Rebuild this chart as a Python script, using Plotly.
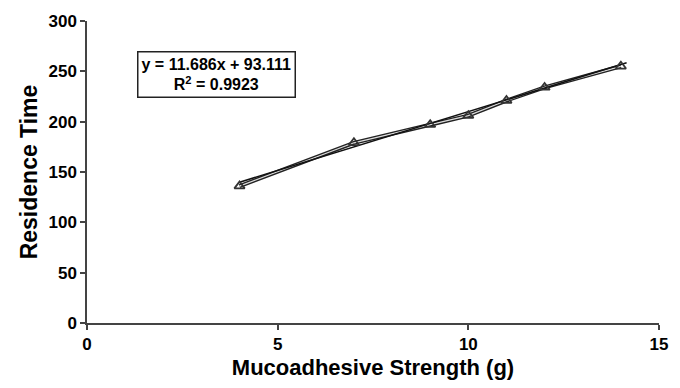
import plotly.graph_objects as go

strength = [4, 7, 9, 10, 11, 12, 14]
residence = [136, 179, 197, 206, 221, 234, 255]
slope = 11.686
intercept = 93.111
eq_text = "<b>y = 11.686x + 93.111</b><br><b>R<sup>2</sup> = 0.9923</b>"
x_ticks = [0, 5, 10, 15]
y_ticks = [0, 50, 100, 150, 200, 250, 300]

font_family = "Arial, Liberation Sans, sans-serif"

trend_x = [min(strength), max(strength) + 0.15]
trend_y = [slope * v + intercept for v in trend_x]

fig = go.Figure()
fig.add_trace(go.Scatter(x=strength, y=residence, mode="lines",
                         line=dict(color="#222222", width=4), hoverinfo="skip",
                         showlegend=False))
fig.add_trace(go.Scatter(x=strength, y=residence, mode="lines",
                         line=dict(color="#dddddd", width=1.2), hoverinfo="skip",
                         showlegend=False))
fig.add_trace(go.Scatter(x=trend_x, y=trend_y, mode="lines",
                         line=dict(color="#111111", width=1.5), showlegend=False))
fig.add_trace(go.Scatter(x=strength, y=residence, mode="markers",
                         marker=dict(symbol="triangle-up-open", size=9,
                                     color="#333333", line=dict(width=1.8)),
                         showlegend=False))

fig.add_annotation(x=0.087, y=0.745, xref="paper", yref="paper",
                   xanchor="left", yanchor="bottom", showarrow=False,
                   text=eq_text, align="center",
                   font=dict(family=font_family, size=16, color="black"),
                   bordercolor="#222222", borderwidth=1.5, borderpad=3,
                   bgcolor="white")

axis_font = dict(family=font_family, size=17, color="black")
x_title_font = dict(family=font_family, size=22, color="black")
y_title_font = dict(family=font_family, size=23, color="black")

fig.update_layout(
    width=680, height=388,
    margin=dict(l=87, r=15, t=20, b=63),
    paper_bgcolor="white", plot_bgcolor="white",
    xaxis=dict(range=[0, 15], tickvals=x_ticks,
               ticktext=[f"<b>{v}</b>" for v in x_ticks],
               showgrid=False, zeroline=False,
               showline=True, linecolor="#444444", linewidth=1.5,
               ticks="outside", ticklen=5, tickcolor="#444444", tickwidth=1.5,
               tickfont=axis_font,
               title=dict(text="<b>Mucoadhesive Strength (g)</b>", font=x_title_font, standoff=6)),
    yaxis=dict(range=[0, 300], tickvals=y_ticks,
               ticktext=[f"<b>{v}</b>" for v in y_ticks],
               showgrid=False, zeroline=False,
               showline=True, linecolor="#444444", linewidth=1.5,
               ticks="outside", ticklen=5, tickcolor="#444444", tickwidth=1.5,
               tickfont=axis_font,
               title=dict(text="<b>Residence Time</b>", font=y_title_font, standoff=4)),
)

fig.write_html("out.html")
